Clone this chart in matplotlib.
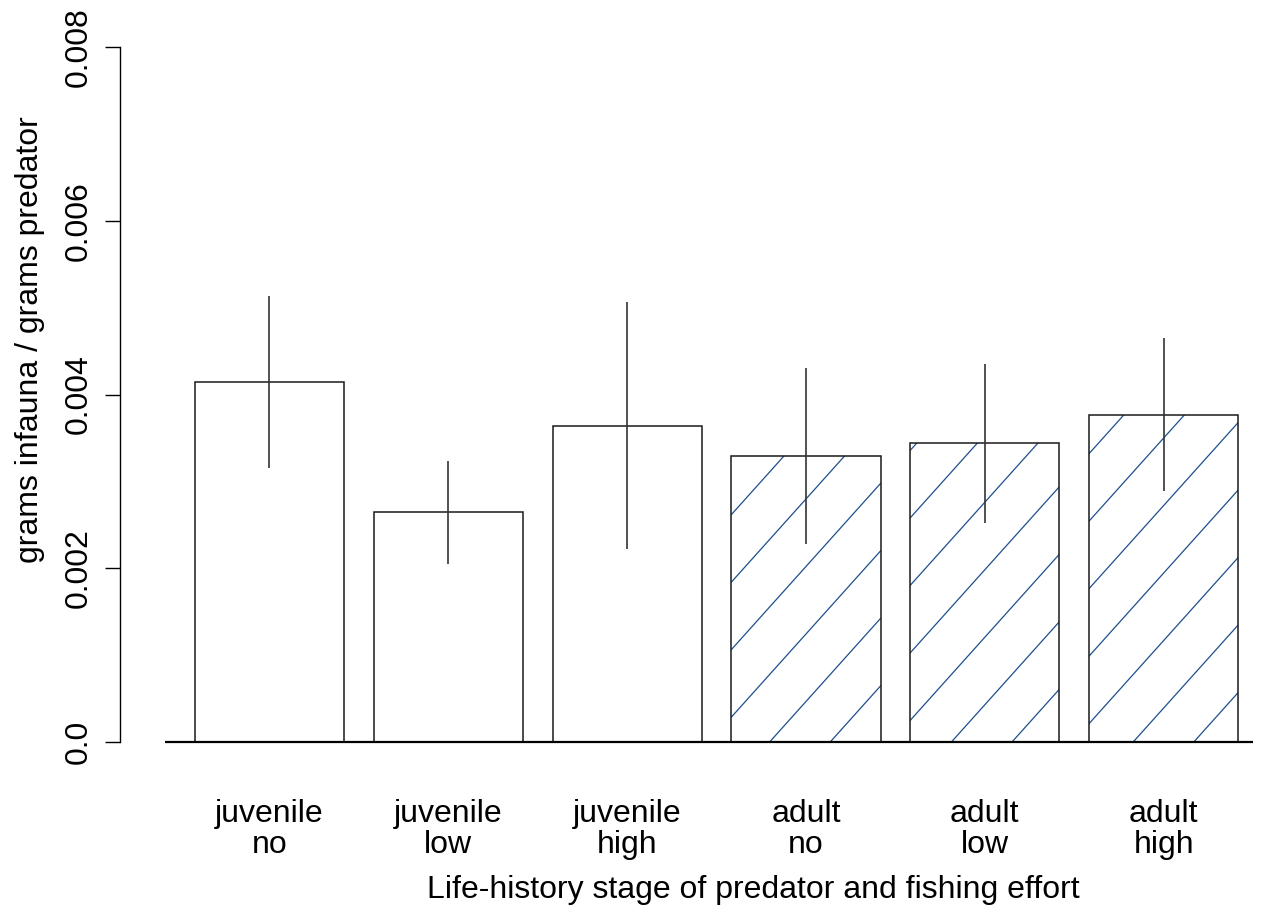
import numpy as np
import matplotlib
matplotlib.use('Agg')
import matplotlib.pyplot as plt


plt.rcParams['font.family'] = ['Liberation Sans', 'DejaVu Sans']

# data
stage = ['juvenile', 'juvenile', 'juvenile', 'adult', 'adult', 'adult']
effort = ['no', 'low', 'high', 'no', 'low', 'high']
means = [0.004147, 0.002645, 0.003641, 0.003289, 0.003439, 0.003768]
upper = [0.005136, 0.003235, 0.005060, 0.004309, 0.004355, 0.004653]
lower = [0.003158, 0.002051, 0.002227, 0.002285, 0.002527, 0.002894]
hatched = [False, False, False, True, True, True]

y_ticks = [0.0, 0.002, 0.004, 0.006, 0.008]
y_tick_labels = ['0.0', '0.002', '0.004', '0.006', '0.008']

HATCH_COLOR = '#1f4e8c'
FS = 23

W, H = 1268, 915
fig = plt.figure(figsize=(W / 100, H / 100), dpi=100)
ax = fig.add_axes([120 / W, 145 / H, 1148 / W, 751 / H])
ax.set_xlim(-0.303, 7.40)
ax.set_ylim(-0.00032, 0.00832)

# R style barplot positions: width 1, space 0.2
centers = 0.7 + 1.2 * np.arange(len(means))
bars = ax.bar(centers, means, width=1.0, facecolor='none', edgecolor='#1a1a1a',
              linewidth=1.1, zorder=3)

# diagonal shading lines (like R's density/angle), same phase across bars
p0 = ax.transData.transform((0, 0))
p1 = ax.transData.transform((1, 0.001))
sx = p1[0] - p0[0]
sy = (p1[1] - p0[1]) / 0.001
slope = 1.114 * sx / sy
gap = 67.5 / sy
x_ref, y_ref = 3.8, 0.00029

for bar, h, do_hatch in zip(bars, means, hatched):
    if not do_hatch:
        continue
    left = bar.get_x()
    right = left + bar.get_width()
    k_lo = int(np.floor((0 - (y_ref + slope * (right - x_ref))) / gap)) - 1
    k_hi = int(np.ceil((h - (y_ref + slope * (left - x_ref))) / gap)) + 1
    for k in range(k_lo, k_hi + 1):
        ys = [y_ref + slope * (left - x_ref) + k * gap,
              y_ref + slope * (right - x_ref) + k * gap]
        line, = ax.plot([left, right], ys, color=HATCH_COLOR, lw=0.9, zorder=2)
        line.set_clip_path(bar)

ax.vlines(centers, lower, upper, color='#333333', lw=1.2, zorder=4)

# baseline under the bars
ax.plot([0, 7.3], [0, 0], color='black', lw=1.6, zorder=5, solid_capstyle='butt')

for side in ['top', 'right', 'bottom']:
    ax.spines[side].set_visible(False)
ax.spines['left'].set_bounds(0, 0.008)
ax.spines['left'].set_linewidth(1.0)

ax.set_yticks(y_ticks)
ax.set_yticklabels(y_tick_labels, rotation=90, va='center', fontsize=FS)
ax.tick_params(axis='y', length=11, width=1.0, pad=8)

ax.set_xticks(centers)
ax.set_xticklabels([s + '\n' + e for s, e in zip(stage, effort)], fontsize=FS)
ax.tick_params(axis='x', length=0, pad=21)
for lab in ax.get_xticklabels():
    lab.set_linespacing(1.05)

fig.text(30 / W, 1 - 340 / H, 'grams infauna / grams predator', rotation=90,
         ha='center', va='center', fontsize=FS)
fig.text(753 / W, 1 - 890 / H, 'Life-history stage of predator and fishing effort',
         ha='center', va='center', fontsize=FS)

fig.savefig('out.png', dpi=100)
